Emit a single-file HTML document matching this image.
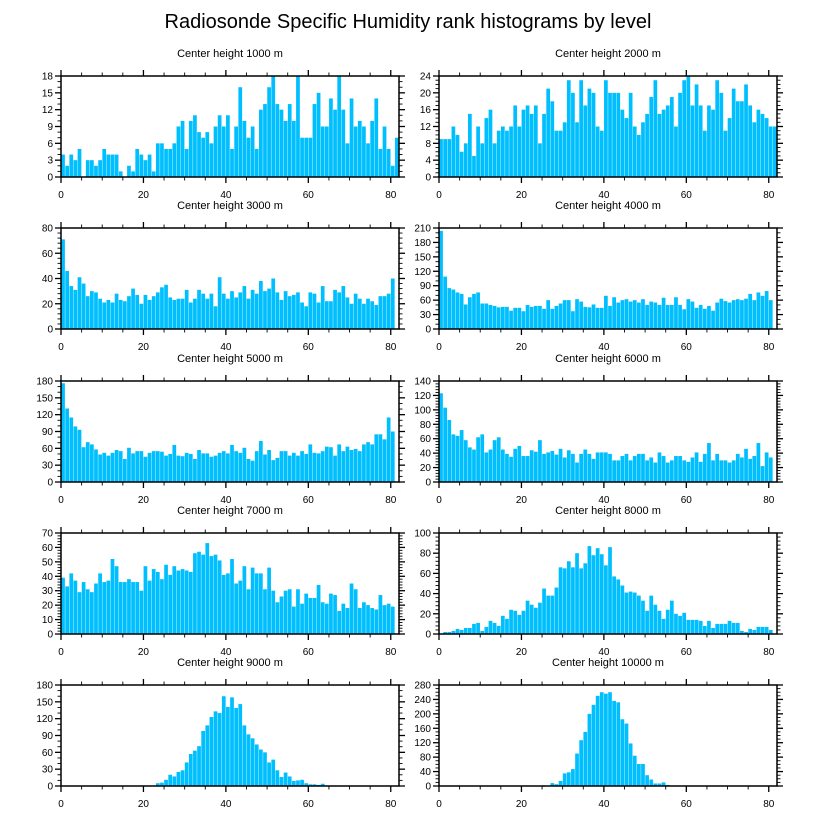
<!DOCTYPE html>
<html><head><meta charset="utf-8"><style>
body{margin:0;background:#fff;}
svg text{font-family:"Liberation Sans",sans-serif;fill:#000;}
</style></head><body>
<svg id="chart" width="816" height="824" viewBox="0 0 816 824" xmlns="http://www.w3.org/2000/svg">
<text x="408" y="28" font-size="20" text-anchor="middle">Radiosonde Specific Humidity rank histograms by level</text>
</svg>
<script>
const levels = [1000,2000,3000,4000,5000,6000,7000,8000,9000,10000];
const yMaxes = [18,24,80,210,180,140,70,100,180,280];
const yStepTicks = [3,4,20,30,30,20,10,20,30,40];
const xTickLabels = [0,20,40,60,80];
const h1000 = [4,2,4,3,5,0,3,3,2,3,5,4,4,4,1,0,2,1,5,4,3,4,1,6,6,5,5,6,9,10,5,10,11,8,7,8,6,9,11,9,11,5,9,16,10,7,9,5,12,13,16,18,13,12,10,13,10,18,7,7,7,13,15,9,9,14,12,18,12,6,14,9,10,9,6,10,14,5,9,5,2,7];
const h2000 = [9,9,9,12,10,6,8,15,5,12,8,14,16,8,11,12,11,12,17,12,16,17,15,17,8,15,21,18,11,11,13,23,20,13,23,17,21,20,12,11,23,20,20,20,16,14,20,12,10,13,15,19,23,15,16,17,19,12,20,23,24,17,22,17,11,17,16,23,20,11,14,21,18,18,22,17,13,16,15,14,12,12];
const h3000 = [71,46,34,31,41,36,26,30,29,24,21,23,21,28,23,22,26,32,27,20,27,23,26,29,33,35,25,23,24,24,31,21,24,31,28,24,28,18,41,28,24,30,25,29,34,24,31,28,38,30,32,40,29,23,30,26,27,29,21,18,29,28,21,34,22,22,31,29,34,25,20,28,24,20,24,22,19,26,26,28,40];
const h4000 = [204,109,85,82,76,73,51,66,73,76,53,53,50,48,45,46,46,38,44,44,37,50,46,48,48,42,60,42,48,53,60,60,37,62,57,46,45,51,44,44,69,48,66,55,60,62,57,60,55,62,50,57,55,50,65,50,50,66,50,41,62,57,44,50,42,48,38,55,63,58,55,60,62,60,63,73,60,76,69,79,60];
const h5000 = [176,131,115,99,93,62,71,67,58,49,52,47,52,57,55,41,61,51,55,55,45,52,55,55,54,47,50,66,47,46,52,50,41,57,51,51,45,47,52,55,51,66,55,52,61,41,38,55,73,49,57,39,43,55,55,47,52,47,55,50,67,52,51,55,63,62,47,67,55,63,57,59,55,67,71,67,85,85,76,115,90];
const h6000 = [123,103,86,66,64,72,58,48,45,62,66,41,45,58,62,45,39,35,46,50,36,36,44,42,58,39,41,43,38,46,34,44,39,27,39,45,39,32,41,41,41,39,30,30,36,39,30,36,39,39,30,34,27,41,36,27,30,36,36,30,28,34,41,28,39,54,30,39,30,30,27,30,39,34,46,32,36,54,22,41,34];
const h7000 = [39,33,42,37,29,36,31,29,35,42,36,37,52,47,36,36,38,36,36,30,47,37,45,43,38,48,41,47,44,45,44,43,56,57,55,63,54,55,51,41,42,52,35,37,47,31,46,42,42,31,46,30,22,26,30,31,19,31,21,28,25,25,34,22,21,28,27,16,21,18,35,31,18,22,20,18,17,27,20,21,19];
const h8000 = [0,2,2,3,5,4,6,6,10,11,3,7,13,11,8,18,15,24,23,19,23,33,29,26,31,45,38,38,46,66,65,72,66,80,65,70,87,78,85,79,68,86,57,54,48,41,42,41,38,33,23,38,29,23,15,24,33,20,18,21,14,14,14,13,8,13,6,10,10,10,13,11,11,3,2,5,4,7,7,7,4];
const h9000 = [0,0,0,0,0,0,0,0,0,0,0,0,0,0,0,0,1,0,0,1,1,1,1,5,6,11,20,17,25,28,42,57,63,71,98,108,123,133,130,160,141,158,139,146,108,92,85,74,65,60,42,47,28,16,24,17,9,10,11,5,3,3,2,4,1,1,1,0,0,0,0,0,0,0,0,0,0,0,0,0,0];
const h10000 = [0,0,0,0,0,0,0,0,0,0,0,0,0,0,0,0,0,0,0,0,0,0,0,0,0,2,0,8,5,14,35,38,47,90,127,150,200,225,250,260,256,260,236,232,185,173,118,84,61,61,30,18,7,7,10,3,1,0,0,0,0,0,0,0,0,0,0,0,0,0,0,0,0,0,0,0,0,0,0,0,0];
const seriesList = [h1000,h2000,h3000,h4000,h5000,h6000,h7000,h8000,h9000,h10000];

const NS = "http://www.w3.org/2000/svg";
const svg = document.getElementById('chart');
const X_MAX = 82;
const colL = [61, 439], PW = 338, PH = 101;
const rowTop = [76, 228, 381, 533, 685];

function mk(tag, attrs, parent){
  const e = document.createElementNS(NS, tag);
  for (const k in attrs) e.setAttribute(k, attrs[k]);
  parent.appendChild(e);
  return e;
}

seriesList.forEach((data, p) => {
  const col = p % 2, row = Math.floor(p / 2);
  const x0 = colL[col], y0 = rowTop[row];
  const yMax = yMaxes[p], step = yStepTicks[p];
  const xs = v => x0 + v / X_MAX * PW;
  const ys = v => y0 + PH - v / yMax * PH;
  const g = mk('g', {}, svg);
  
  
  const t = mk('text', {x: x0 + PW/2, y: y0 - 19, 'font-size': 11, 'text-anchor': 'middle'}, g);
  t.textContent = 'Center height ' + levels[p] + ' m';
  
  
  data.forEach((v, i) => {
    if (v <= 0) return;
    const r = mk('rect', {x: xs(i) + 0.15, y: ys(v), width: Math.max(0.5, xs(i+1) - xs(i) - 0.4), height: ys(0) - ys(v), fill: '#00bfff'}, g);
    
    
  });
  for (let v = 0; v <= 80; v += 5) {
    const major = v % 20 === 0;
    const L = major ? 6 : 3.5;
    mk('line', {x1: xs(v), x2: xs(v), y1: y0 + PH, y2: y0 + PH + L, stroke: '#000', 'stroke-width': major ? 1.3 : 0.9}, g);
    mk('line', {x1: xs(v), x2: xs(v), y1: y0, y2: y0 - L, stroke: '#000', 'stroke-width': major ? 1.3 : 0.9}, g);
  }
  xTickLabels.forEach(v => {
    const l = mk('text', {x: xs(v), y: y0 + PH + 21, 'font-size': 10, 'text-anchor': 'middle'}, g);
    l.textContent = v;
    
    
  });
  let sub = (step % 3 === 0) ? 3 : (step === 4 || step === 40 ? 4 : 5);
  const ms = step / sub;
  for (let k = 0; k * ms <= yMax + 1e-9; k++) {
    const v = k * ms, major = k % sub === 0;
    const L = major ? 6 : 3.5;
    mk('line', {x1: x0, x2: x0 - L, y1: ys(v), y2: ys(v), stroke: '#000', 'stroke-width': major ? 1.3 : 0.9}, g);
    mk('line', {x1: x0 + PW, x2: x0 + PW + L, y1: ys(v), y2: ys(v), stroke: '#000', 'stroke-width': major ? 1.3 : 0.9}, g);
  }
  for (let v = 0; v <= yMax + 1e-9; v += step) {
    const l = mk('text', {x: x0 - 8, y: ys(v) + 3.5, 'font-size': 10, 'text-anchor': 'end'}, g);
    l.textContent = v;
    
    
  }
  const f = mk('rect', {x: x0, y: y0, width: PW, height: PH, fill: 'none', stroke: '#000', 'stroke-width': 1.5}, g);
  
  
});
</script>
</body></html>
